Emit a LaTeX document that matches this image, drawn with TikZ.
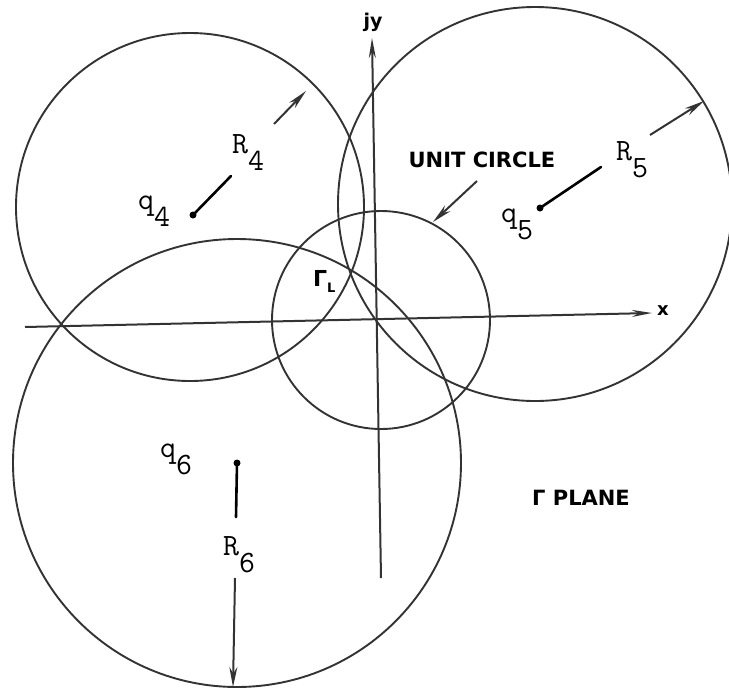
\documentclass[tikz,border=0pt]{standalone}
\usepackage{fontspec}
\setsansfont{DejaVu Sans}
\usepackage{tikz}
\usetikzlibrary{arrows.meta, calc}

\newcommand{\lowsub}[2]{#1\raisebox{-0.55em}{#2}}

\begin{document}
\begin{tikzpicture}[x=1pt, y=-1pt,
  circ/.style={line width=1.9pt, black!80},
  axis/.style={line width=2pt, black!80, -{Stealth[length=20pt, width=7pt]}},
  rad/.style={line width=2.6pt, line cap=round},
  radarr/.style={line width=2pt, black!80, -{Stealth[length=20pt, width=8pt]}},
  sym/.style={font=\ttfamily\fontsize{31}{33}\selectfont, inner sep=0pt, anchor=base west},
  lett/.style={font=\sffamily\bfseries\fontsize{21}{23}\selectfont, inner sep=0pt},
  dot/.style={circle, fill, inner sep=0pt, minimum size=7pt}
]
  \useasboundingbox (0,0) rectangle (729,689);

  % circles
  \coordinate (c4) at (190,207);
  \coordinate (c5) at (535,204);
  \coordinate (c6) at (237,463);
  \coordinate (cu) at (381,320);
  \draw[circ] (c4) circle[radius=174];
  \draw[circ] (c5) circle[radius=197];
  \draw[circ] (c6) circle[radius=224];
  \draw[circ] (cu) circle[radius=109];

  % axes
  \coordinate (xl) at (25,327);
  \coordinate (xr) at (652,313);
  \coordinate (yb) at (381,578);
  \coordinate (yt) at (372,38);
  \draw[axis] (xl) -- (xr);
  \draw[axis] (yb) -- (yt);
  \node[lett, font=\sffamily\bfseries\fontsize{18}{20}\selectfont] (xlab) at (663,311) {x};
  \node[lett, font=\sffamily\bfseries\fontsize{19}{21}\selectfont] (ylab) at (373,22) {jy};

  % centres
  \node[dot] (d4) at (193,215) {};
  \node[dot] (d5) at (540,208) {};
  \node[dot] (d6) at (237,463) {};

  % radius R4
  \coordinate (e4) at (231,176);
  \coordinate (s4) at (274,124);
  \coordinate (t4) at (306,91);
  \draw[rad] (d4.center) -- (e4);
  \draw[radarr] (s4) -- (t4);
  \node[sym] (r4) at (232,153) {\lowsub{R}{4}};
  \node[sym] (q4) at (138,209) {\lowsub{q}{4}};

  % radius R5
  \coordinate (e5) at (601,167);
  \coordinate (s5) at (650,135);
  \coordinate (t5) at (704,101);
  \draw[rad] (d5.center) -- (e5);
  \draw[radarr] (s5) -- (t5);
  \node[sym] (r5) at (616,160) {\lowsub{R}{5}};
  \node[sym] (q5) at (501,222) {\lowsub{q}{5}};

  % radius R6
  \coordinate (e6) at (236,517);
  \coordinate (s6) at (235,578);
  \coordinate (t6) at (233,687);
  \draw[rad] (d6.center) -- (e6);
  \draw[radarr] (s6) -- (t6);
  \node[sym] (r6) at (223,555) {\lowsub{R}{6}};
  \node[sym] (q6) at (160,457) {\lowsub{q}{6}};

  % unit circle
  \node[lett] (unit) at (482,160) {UNIT CIRCLE};
  \coordinate (su) at (477,181);
  \coordinate (tu) at (433,222);
  \draw[radarr] (su) -- (tu);

  \node[lett, anchor=base west, font=\sffamily\bfseries\fontsize{22}{24}\selectfont]
    (gam) at (313,286) {Γ\raisebox{-0.3em}{\fontsize{13}{14}\selectfont L}};
  \node[lett, anchor=base west, font=\sffamily\bfseries\fontsize{21}{23}\selectfont]
    (plane) at (532,505) {Γ PLANE};
\end{tikzpicture}
\end{document}
